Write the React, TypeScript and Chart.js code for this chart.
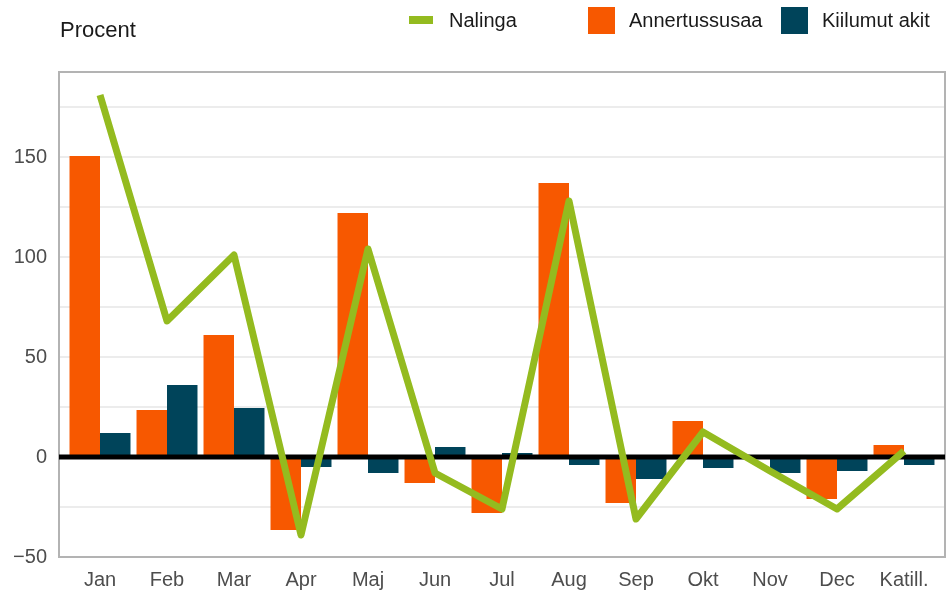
import React, { useEffect, useRef } from 'react';
import { Chart, registerables } from 'chart.js';

Chart.register(...registerables);

const categories = ['Jan', 'Feb', 'Mar', 'Apr', 'Maj', 'Jun', 'Jul', 'Aug', 'Sep', 'Okt', 'Nov', 'Dec', 'Katill.'];
const nalinga = [181, 68, 101, -39, 104, -8, -26, 128, -31, 12.5, -7, -26, 3];
const annertussusaa = [150.5, 23.5, 61, -36.5, 122, -13, -28, 137, -23, 18, null, -21, 6];
const kiilumutAkit = [12, 36, 24.5, -5, -8, 5, 2, -4, -11, -5.5, -8, -7, -4];
const yTickValues = [-50, -25, 0, 25, 50, 75, 100, 125, 150, 175];
const yMin = -50;
const yMax = 192.5;

const GREEN = '#94bb1f';
const ORANGE = '#f75800';
const BLUE = '#00445a';
const FONT = "'Liberation Sans', Arial, sans-serif";

const decor = {
  id: 'decor',
  beforeDatasetsDraw(chart: any) {
    const { ctx, chartArea } = chart;
    ctx.save();
    ctx.strokeStyle = '#b3b3b3';
    ctx.lineWidth = 2;
    ctx.strokeRect(chartArea.left, chartArea.top, chartArea.right - chartArea.left, chartArea.bottom - chartArea.top);
    ctx.restore();
  },
  beforeDatasetDraw(chart: any, args: any) {
    if (args.index !== 0) return;
    const { ctx, chartArea, scales } = chart;
    const y0 = scales.y.getPixelForValue(0);
    ctx.save();
    ctx.strokeStyle = '#000000';
    ctx.lineWidth = 5;
    ctx.beginPath();
    ctx.moveTo(chartArea.left, y0);
    ctx.lineTo(chartArea.right, y0);
    ctx.stroke();
    ctx.restore();
  },
  afterDraw(chart: any) {
    const { ctx } = chart;
    ctx.save();
    ctx.fillStyle = '#1a1a1a';
    ctx.textBaseline = 'alphabetic';
    ctx.textAlign = 'left';
    ctx.font = `22px ${FONT}`;
    ctx.fillText('Procent', 60, 37);

    ctx.font = `20px ${FONT}`;
    ctx.fillStyle = GREEN;
    ctx.fillRect(409, 16, 24, 8);
    ctx.fillStyle = '#1a1a1a';
    ctx.fillText('Nalinga', 449, 27);

    ctx.fillStyle = ORANGE;
    ctx.fillRect(588, 7, 27, 27);
    ctx.fillStyle = '#1a1a1a';
    ctx.fillText('Annertussusaa', 629, 27);

    ctx.fillStyle = BLUE;
    ctx.fillRect(781, 7, 27, 27);
    ctx.fillStyle = '#1a1a1a';
    ctx.fillText('Kiilumut akit', 822, 27);
    ctx.restore();
  },
};

export default function App() {
  const canvasRef = useRef<HTMLCanvasElement | null>(null);

  useEffect(() => {
    if (!canvasRef.current) return;
    const xy = (arr: (number | null)[]) => arr.map((v, i) => ({ x: i, y: v }));
    const chart = new Chart(canvasRef.current, {
      type: 'bar',
      data: {
        datasets: [
          {
            type: 'line',
            label: 'Nalinga',
            data: xy(nalinga) as any,
            borderColor: GREEN,
            backgroundColor: GREEN,
            borderWidth: 7,
            pointRadius: 0,
            borderCapStyle: 'butt',
            borderJoinStyle: 'round',
            tension: 0,
            order: 0,
          } as any,
          {
            type: 'bar',
            label: 'Annertussusaa',
            data: xy(annertussusaa) as any,
            backgroundColor: ORANGE,
            borderWidth: 0,
            categoryPercentage: 0.91,
            barPercentage: 1,
            order: 1,
          },
          {
            type: 'bar',
            label: 'Kiilumut akit',
            data: xy(kiilumutAkit) as any,
            backgroundColor: BLUE,
            borderWidth: 0,
            categoryPercentage: 0.91,
            barPercentage: 1,
            order: 1,
          },
        ],
      },
      options: {
        animation: false,
        responsive: true,
        maintainAspectRatio: false,
        layout: { padding: { top: 72, right: 7, left: 0, bottom: 0 } },
        plugins: { legend: { display: false }, tooltip: { enabled: false } },
        scales: {
          x: {
            type: 'linear',
            offset: false,
            min: -0.5 - 0.112,
            max: categories.length - 0.5 + 0.112,
            grid: { display: false },
            border: { display: false },
            afterBuildTicks: (scale: any) => {
              scale.ticks = categories.map((_, i) => ({ value: i }));
            },
            afterFit: (scale: any) => {
              scale.height = 35;
            },
            ticks: {
              autoSkip: false,
              maxRotation: 0,
              padding: 3,
              color: '#4d4d4d',
              font: { family: FONT, size: 20 },
              callback: (v: any) => categories[Math.round(Number(v))] ?? '',
            },
          },
          y: {
            type: 'linear',
            min: yMin,
            max: yMax,
            grid: { color: '#ececec', lineWidth: 2, drawTicks: false },
            border: { display: false },
            afterBuildTicks: (scale: any) => {
              scale.ticks = yTickValues.map((v) => ({ value: v }));
            },
            afterFit: (scale: any) => {
              scale.width = 59;
            },
            ticks: {
              padding: 12,
              color: '#4d4d4d',
              font: { family: FONT, size: 20 },
              callback: (v: any) => {
                const n = Number(v);
                if (n % 50 !== 0) return '';
                return n < 0 ? '\u2212' + Math.abs(n) : String(n);
              },
            },
          },
        },
      } as any,
      plugins: [decor],
    });
    return () => chart.destroy();
  }, []);

  return (
    <div style={{ position: 'absolute', left: 0, top: 0, width: 952, height: 592, background: '#ffffff' }}>
      <canvas ref={canvasRef} />
    </div>
  );
}
